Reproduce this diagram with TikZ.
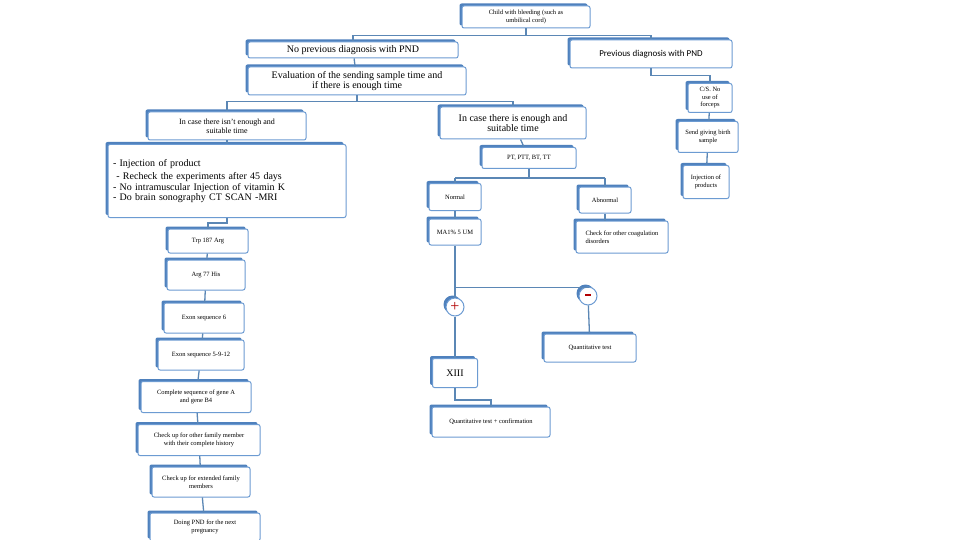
\documentclass[tikz,border=0pt]{standalone}
\usepackage{fontspec}
\setmainfont{Liberation Serif}
\newfontfamily\carfont{Carlito}
\usetikzlibrary{shadows}
\definecolor{bxb}{HTML}{6C9BD2}
\definecolor{bxs}{HTML}{4F81BD}
\definecolor{ln}{HTML}{5B87B5}
\begin{document}
\begin{tikzpicture}[x=1pt,y=-1pt,
 box/.style 2 args={draw=bxb,line width=1pt,fill=white,rounded corners=2pt,inner sep=1pt,
   align=center,minimum width=#1,minimum height=#2,
   drop shadow={shadow xshift=-2.5pt,shadow yshift=2.5pt,fill=bxs,opacity=1},
   font=\fontsize{6.5}{7.5}\selectfont},
 big/.style={font=\fontsize{10}{10.5}\selectfont},
 mid/.style={font=\fontsize{8}{9}\selectfont},
 cb/.style={circle,draw=bxb,line width=1pt,fill=white,minimum size=18pt,inner sep=0pt,
   drop shadow={shadow xshift=-2.5pt,shadow yshift=2.5pt,fill=bxs,opacity=1},text=red!70!black},
 ln/.style={draw=ln,line width=1.3pt}]
\path[use as bounding box] (0,0) rectangle (960,540);
\fill[white] (0,0) rectangle (960,540);
\node[box={128pt}{22pt}] (child) at (526,17) {Child with bleeding (such as\\umbilical cord)};
\node[box={210pt}{16pt},big] (nop) at (353,50) {No previous diagnosis with PND};
\node[box={162pt}{28pt},font=\carfont\fontsize{9}{10}\selectfont] (prev) at (651,54) {Previous diagnosis with PND};
\node[box={218pt}{28pt},big] (eval) at (357,81) {Evaluation of the sending sample time and\\if there is enough time};
\node[box={44pt}{29pt}] (cs) at (710,98) {C/S. No\\use of\\forceps};
\node[box={60pt}{31pt}] (send) at (708,137) {Send giving birth\\sample};
\node[box={46pt}{33pt}] (inj) at (706,182) {Injection of\\products};
\node[box={158pt}{28pt},mid] (isnt) at (227,126) {In case there isn't enough and\\suitable time};
\node[box={146pt}{32pt},big] (enough) at (513,123) {In case there is enough and\\suitable time};
\node[box={94pt}{21pt}] (pt) at (529,158) {PT, PTT, BT, TT};
\node[box={238pt}{73pt},big,align=left,text width=228pt] (list) at (227,181) {- Injection of product\\[3pt] \ - Recheck the experiments after 45 days\\- No intramuscular Injection of vitamin K\\- Do brain sonography CT SCAN -MRI};
\node[box={52pt}{27pt}] (norm) at (455,197) {Normal};
\node[box={52pt}{26pt}] (abn) at (605,200) {Abnormal};
\node[box={52pt}{26pt}] (ma) at (455,232) {MA1\% 5 UM};
\node[box={92pt}{32pt},align=left] (coag) at (622,237) {Check for other coagulation\\disorders};
\node[box={80pt}{24pt}] (trp) at (208,241) {Trp 187 Arg};
\node[box={78pt}{30pt}] (arg) at (206,275) {Arg 77 His};
\node[box={80pt}{30pt}] (ex6) at (204,318) {Exon sequence 6};
\node[box={86pt}{30pt}] (ex5) at (201,355) {Exon sequence 5-9-12};
\node[box={110pt}{31pt}] (comp) at (196,397) {Complete sequence of gene A\\and gene B4};
\node[box={122pt}{31pt}] (fam) at (199,440) {Check up for other family member\\with their complete history};
\node[box={98pt}{30pt}] (ext) at (201,482) {Check up for extended family\\members};
\node[box={110pt}{28pt}] (pnd) at (205,527) {Doing PND for the next\\pregnancy};
\node[cb,font=\fontsize{16}{16}\selectfont] (plus) at (455,307) {+};
\node[cb] (minus) at (588,296) {\rule[2pt]{6pt}{2pt}};
\node[box={92pt}{28pt}] (qt) at (590,348) {Quantitative test};
\node[box={45pt}{29pt},big] (xiii) at (455,373) {XIII};
\node[box={118pt}{30pt}] (qc) at (491,422) {Quantitative test + confirmation};
% connectors
\draw[ln] (child.south) -- ++(0,7) coordinate (c1) (c1 -| nop) -- (c1 -| prev);
\draw[ln] (c1 -| nop) -- (nop.north) (c1 -| prev) -- (prev.north);
\draw[ln] (nop) -- (eval);
\draw[ln] (prev.south) -- ++(0,7) -| (cs.north);
\draw[ln] (cs) -- (send); \draw[ln] (send) -- (inj);
\draw[ln] (eval.south) -- ++(0,6) coordinate (c2) (c2 -| isnt) -- (c2 -| enough);
\draw[ln] (c2 -| isnt) -- (isnt.north) (c2 -| enough) -- (enough.north);
\draw[ln] (isnt) -- (list);
\draw[ln] (enough) -- (pt);
\draw[ln] (pt.south) -- ++(0,9) coordinate (c3) (c3 -| norm) -- (c3 -| abn);
\draw[ln] (c3 -| norm) -- (norm.north) (c3 -| abn) -- (abn.north);
\draw[ln] (norm) -- (ma); \draw[ln] (abn) -- (coag.north -| abn);
\draw[ln] (ma.south) -- ++(0,42) coordinate (c4) -| (minus.north);
\draw[ln] (c4) -- (plus.north);
\draw[ln] (minus) -- (qt); \draw[ln] (plus) -- (xiii);
\draw[ln] (xiii.south) -- ++(0,12) -| (qc.north);
\draw[ln] (list.south) -- ++(0,5) -| (trp.north);
\foreach \a/\b in {trp/arg,arg/ex6,ex6/ex5,ex5/comp,comp/fam,fam/ext,ext/pnd}
  \draw[ln] (\a) -- (\b);
\end{tikzpicture}
\end{document}
